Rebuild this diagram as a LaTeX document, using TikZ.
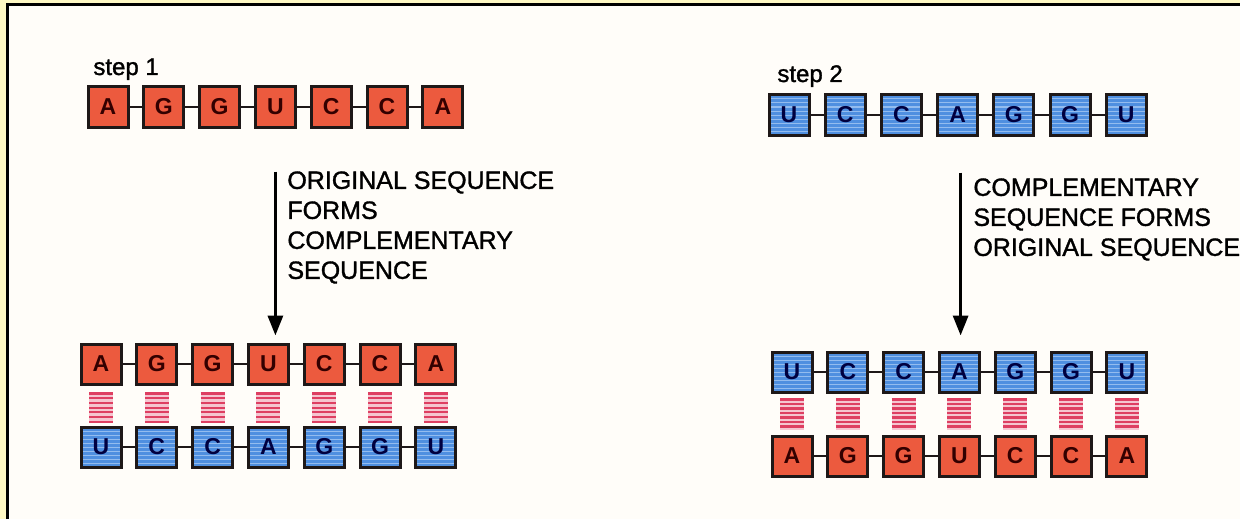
\documentclass[tikz,border=0pt]{standalone}
\usepackage{fontspec}
\setmainfont{Liberation Sans}
\newfontfamily\notefont{Liberation Sans}[FakeBold=1.3]
\usetikzlibrary{arrows.meta,calc,positioning}
\definecolor{rnared}{HTML}{EC5A3E}
\definecolor{rnablue}{HTML}{4F8FE0}
\definecolor{stripe}{HTML}{93BCEF}
\definecolor{rung}{HTML}{DE3F62}
\definecolor{ink}{HTML}{1E1818}
\definecolor{paper}{HTML}{FFFDF9}
\definecolor{margin}{HTML}{FFF9C4}
\tikzset{
  base/.style={draw=ink,line width=1.5pt,minimum size=20pt,inner sep=0pt,
               font=\fontsize{11.5}{12}\selectfont\bfseries},
  redbase/.style={base,fill=rnared,text=red!20!black},
  bluebase/.style={base,fill=rnablue,text=blue!25!black,
    path picture={\foreach \k in {-8,-6,...,8}{
      \draw[stripe,line width=.5pt] ([yshift=\k pt]path picture bounding box.west)
        -- ([yshift=\k pt]path picture bounding box.east);}}},
  link/.style={draw=ink,line width=1.1pt},
  bond/.style={draw=rung,line width=1.1pt},
  bondbg/.style={fill=rung!30},
  flow/.style={-{Triangle[length=10pt,width=7.5pt]},draw=black,line width=1.6pt},
  note/.style={align=left,inner sep=0pt,anchor=north west,font=\notefont\fontsize{12.5}{15}\selectfont},
  steplabel/.style={inner sep=0pt,anchor=base west,font=\notefont\fontsize{12}{14}\selectfont}
}
\begin{document}
\begin{tikzpicture}[x=0.5pt,y=-0.5pt]
  \useasboundingbox (0,0) rectangle (1240,519);
  \fill[margin] (0,0) rectangle (1240,519);
  \fill[paper] (7,5) rectangle (1240,519);
  \draw[line width=1.5pt] (7,519) -- (7,5) -- (1240,5);

  % step 1
  \node[steplabel] (lab1) at (93,75) {step 1};
  \foreach \b [count=\i] in {A,G,G,U,C,C,A}{
    \node[redbase] (a\i) at ({108+55.8*(\i-1)},107) {\b};
    \node[redbase] (ao\i) at ({101+55.8*(\i-1)},364) {\b};
  }
  \foreach \b [count=\i] in {U,C,C,A,G,G,U}{
    \node[bluebase] (ac\i) at ({101+55.8*(\i-1)},447) {\b};
  }

  % step 2
  \node[steplabel] (lab2) at (777,82) {step 2};
  \foreach \b [count=\i] in {U,C,C,A,G,G,U}{
    \node[bluebase] (b\i) at ({789+56.2*(\i-1)},115) {\b};
    \node[bluebase] (bc\i) at ({792+55.8*(\i-1)},372) {\b};
  }
  \foreach \b [count=\i] in {A,G,G,U,C,C,A}{
    \node[redbase] (bo\i) at ({792+55.8*(\i-1)},456) {\b};
  }

  % backbones
  \foreach \i [count=\j from 2] in {1,...,6}{
    \draw[link] (a\i.east) -- (a\j.west);
    \draw[link] (ao\i.east) -- (ao\j.west);
    \draw[link] (ac\i.east) -- (ac\j.west);
    \draw[link] (b\i.east) -- (b\j.west);
    \draw[link] (bc\i.east) -- (bc\j.west);
    \draw[link] (bo\i.east) -- (bo\j.west);
  }

  % base pairs
  \foreach \i in {1,...,7}{
    \fill[bondbg] ($(ao\i.south)+(-12,7)$) rectangle ($(ac\i.north)+(12,-5)$);
    \fill[bondbg] ($(bc\i.south)+(-12,5)$) rectangle ($(bo\i.north)+(12,-5)$);
    \foreach \k in {0,...,6}{
      \draw[bond] ($(ao\i.south)+(-12,{8+4.7*\k})$) -- ++(24,0);
      \draw[bond] ($(bc\i.south)+(-12,{6+4.5*\k})$) -- ++(24,0);
    }
  }

  % arrows and notes
  \draw[flow] ($(a4.south)+(0,43)$) -- ($(a4.south |- ao4.north)+(0,-7)$);
  \node[note] (n1) at (287,171) {ORIGINAL SEQUENCE\\FORMS\\COMPLEMENTARY\\SEQUENCE};
  \draw[flow] ($(b4.south)+(3,36)$) -- ($(b4.south |- bc4.north)+(3,-15)$);
  \node[note] (n2) at (973,178) {COMPLEMENTARY\\SEQUENCE FORMS\\ORIGINAL SEQUENCE};
\end{tikzpicture}
\end{document}
